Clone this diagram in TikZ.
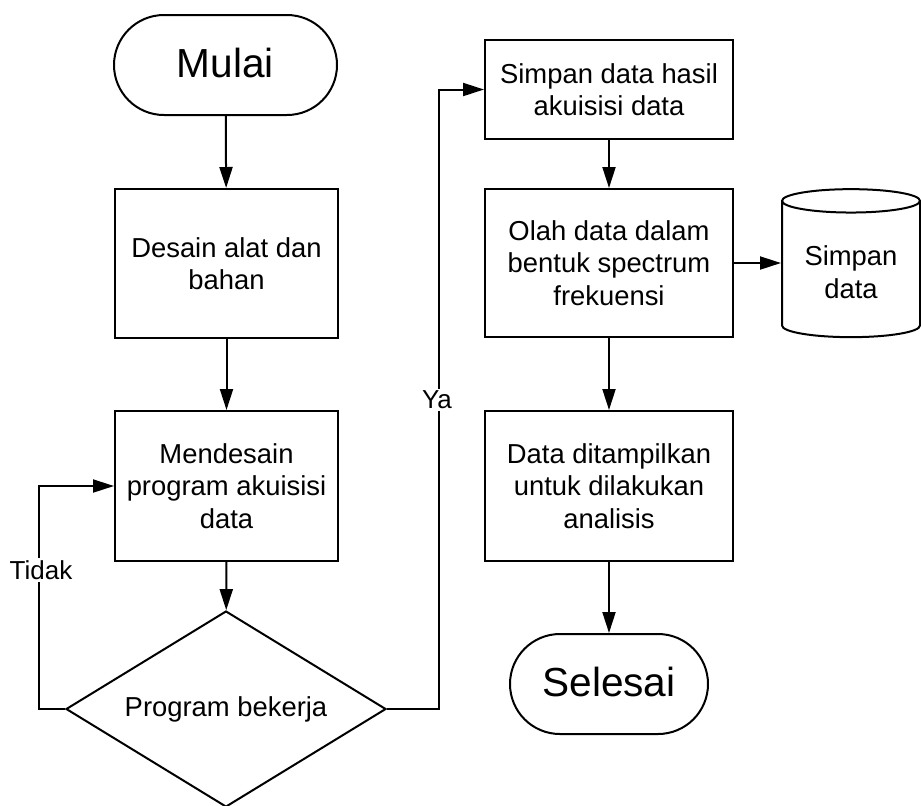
\documentclass[tikz,border=0pt]{standalone}
\usepackage{fontspec}
\setmainfont{Liberation Sans}
\usetikzlibrary{shapes.geometric, arrows.meta, positioning}

\begin{document}
\begin{tikzpicture}[
        x=0.5pt, y=-0.5pt,
        font=\fontsize{13.7}{16.3}\selectfont,
        terminal/.style={rectangle, draw=black, line width=1pt, rounded corners=25pt, minimum width=111.5pt, minimum height=50pt, font=\fontsize{20.3}{24}\selectfont},
        box/.style={rectangle, draw=black, line width=1pt, align=center, minimum width=111.5pt, minimum height=74.5pt},
        wide/.style={box, minimum width=124pt},
        decision/.style={diamond, draw=black, line width=1pt, inner sep=0pt, aspect=1.63, minimum width=160pt, minimum height=98pt},
        storage/.style={cylinder, shape border rotate=90, draw=black, line width=1pt, aspect=0.22, align=center, minimum width=69pt, minimum height=74pt},
        tag/.style={fill=white, inner sep=1pt, font=\fontsize{13}{15}\selectfont},
        arrow/.style={-{Triangle[length=10.5pt, width=6.5pt]}, line width=1pt}
    ]
    \useasboundingbox (0,0) rectangle (921,805);

    % left column
    \node (start) [terminal] at (225.5,65) {\raisebox{2.5pt}{Mulai}};
    \node (design) [box] at (226.5,263.5) {Desain alat dan\\bahan};
    \node (program) [box, minimum height=75pt] at (226.5,486) {Mendesain\\program akuisisi\\data};
    \node (test) [decision] at (226,709) {Program bekerja};

    % right column
    \node (store) [wide, minimum height=49.5pt] at (609,89.5) {Simpan data hasil\\akuisisi data};
    \node (process) [wide, minimum height=74pt] at (609,263) {Olah data dalam\\bentuk spectrum\\frekuensi};
    \node (db) [storage] at (851,272) {Simpan\\data};
    \node (show) [wide, minimum height=75pt] at (609,486) {Data ditampilkan\\untuk dilakukan\\analisis};
    \node (finish) [terminal, minimum width=99pt] at (609,684) {\raisebox{2pt}{Selesai}};

    \draw [arrow] (start) -- (design);
    \draw [arrow] (design) -- (program);
    \draw [arrow] (program) -- (test);
    \draw [arrow] (test.west) -- ++(-26,0) |- (program.west);
    \draw [arrow] (test.east) -- ++(52,0) |- (store.west);
    \draw [arrow] (store) -- (process);
    \draw [arrow] (process.east) -- (process.east -| db.west);
    \draw [arrow] (process) -- (show);
    \draw [arrow] (show) -- (finish);

    \node (no) [tag] at (41,570) {Tidak};
    \node (yes) [tag] at (437,400) {Ya};
    
\end{tikzpicture}
\end{document}
